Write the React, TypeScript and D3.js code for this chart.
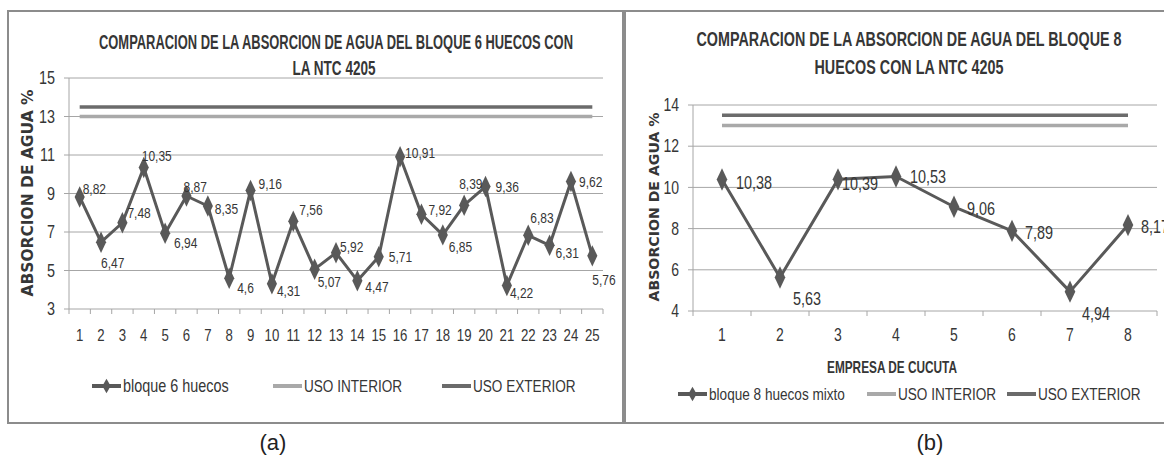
import React from 'react'
import * as d3 from 'd3'

// chart (a): bloque 6 huecos
const categories6 = ['1', '2', '3', '4', '5', '6', '7', '8', '9', '10', '11', '12', '13', '14', '15', '16', '17', '18', '19', '20', '21', '22', '23', '24', '25']
const bloque6 = [8.82, 6.47, 7.48, 10.35, 6.94, 8.87, 8.35, 4.6, 9.16, 4.31, 7.56, 5.07, 5.92, 4.47, 5.71, 10.91, 7.92, 6.85, 8.39, 9.36, 4.22, 6.83, 6.31, 9.62, 5.76]
const yTicks6 = [3, 5, 7, 9, 11, 13, 15]

// chart (b): bloque 8 huecos mixto
const categories8 = ['1', '2', '3', '4', '5', '6', '7', '8']
const bloque8 = [10.38, 5.63, 10.39, 10.53, 9.06, 7.89, 4.94, 8.17]
const yTicks8 = [4, 6, 8, 10, 12, 14]

// NTC 4205 limits
const usoInterior = 13
const usoExterior = 13.5

// where each data label sits relative to its point [dx, dy]
const labelPlace6 = [[3, -8], [0, 21], [5, -10], [-2, -12], [9, 10], [-3, -9], [7, 3], [8, 10], [8, -7], [5, 7], [6, -11], [3, 13], [4, -6], [8, 6], [10, 0], [5, -4], [7, -5], [6, 12], [-5, -22], [10, 0], [3, 7], [2, -18], [6, 7], [8, 0], [0, 24]]
const labelPlace8 = [[14, 3], [13, 21], [4, 4], [14, 0], [13, 2], [13, 2], [12, 22], [13, 2]]

const SANS = "'Liberation Sans', Arial, sans-serif"
const TXT = '#363636'
const SERIES = '#595959'
const EXT = '#6b6b6b'
const INT = '#a9a9a9'
const GRID = '#a6a6a6'

const fmt = (v) => String(v).replace('.', ',')

// Calibri-ish look: Liberation Sans squeezed horizontally
function NText({ x, y, size, anchor = 'start', weight = 'normal', sx = 0.8, children }) {
  return (
    <text
      transform={`translate(${x},${y}) scale(${sx},1)`}
      dy="0.35em"
      textAnchor={anchor}
      fontSize={size}
      fontWeight={weight}
      fontFamily={SANS}
      fill={TXT}
    >
      {children}
    </text>
  )
}

function Chart({ cats, values, ticks, x0, x1, yTop, yBot, places, labelSize, tickSize, xTickSize, diamond }) {
  const x = d3.scaleBand().domain(cats).range([x0, x1])
  const y = d3.scaleLinear().domain([ticks[0], ticks[ticks.length - 1]]).range([yBot, yTop])
  const cx = (c) => x(c) + x.bandwidth() / 2
  const line = d3.line().x((d, i) => cx(cats[i])).y((d) => y(d))
  const first = cx(cats[0])
  const last = cx(cats[cats.length - 1])
  const sym = d3.symbol().type(d3.symbolDiamond).size(diamond)

  return (
    <g>
      {ticks.map((t) => (
        <g key={t}>
          <line x1={x0} x2={x1} y1={y(t)} y2={y(t)} stroke={GRID} strokeWidth={1} />
          <line x1={x0 - 5} x2={x0} y1={y(t)} y2={y(t)} stroke={GRID} />
          <NText x={x0 - 14} y={y(t)} anchor="end" size={tickSize}>
            {t}
          </NText>
        </g>
      ))}
      <line x1={x0} x2={x0} y1={yTop} y2={yBot} stroke={GRID} />
      {cats.map((c, i) => (
        <g key={c}>
          <line x1={x(c)} x2={x(c)} y1={yBot} y2={yBot + 5} stroke={GRID} />
          {i === cats.length - 1 && <line x1={x1} x2={x1} y1={yBot} y2={yBot + 5} stroke={GRID} />}
          <NText x={cx(c)} y={335} anchor="middle" size={xTickSize}>
            {c}
          </NText>
        </g>
      ))}
      <line x1={first} x2={last} y1={y(usoExterior)} y2={y(usoExterior)} stroke={EXT} strokeWidth={3.5} />
      <line x1={first} x2={last} y1={y(usoInterior)} y2={y(usoInterior)} stroke={INT} strokeWidth={3.5} />
      <path d={line(values)} fill="none" stroke={SERIES} strokeWidth={3} strokeLinejoin="round" />
      {values.map((v, i) => (
        <path key={i} d={sym()} transform={`translate(${cx(cats[i])},${y(v)}) scale(0.9,1.1)`} fill={SERIES} />
      ))}
      {values.map((v, i) => (
        <NText key={i} x={cx(cats[i]) + places[i][0]} y={y(v) + places[i][1]} size={labelSize}>
          {fmt(v)}
        </NText>
      ))}
    </g>
  )
}

function Legend({ y, items }) {
  return (
    <g>
      {items.map((it) => (
        <g key={it.label}>
          <line x1={it.x} x2={it.x + 29} y1={y} y2={y} stroke={it.color} strokeWidth={4} />
          {it.marker && <path d={d3.symbol().type(d3.symbolDiamond).size(60)()} transform={`translate(${it.x + 14.5},${y})`} fill={it.color} />}
          <NText x={it.x + 31} y={y} size={it.size}>
            {it.label}
          </NText>
        </g>
      ))}
    </g>
  )
}

export default function App() {
  return (
    <svg width={1164} height={456} style={{ position: 'absolute', left: 0, top: 0, background: '#fff' }}>
      <rect x={8} y={11} width={615} height={412} fill="#fff" stroke="#8c8c8c" strokeWidth={2} />
      <rect x={625} y={11} width={560} height={412} fill="#fff" stroke="#8c8c8c" strokeWidth={2} />

      {/* (a) */}
      <text x={336} y={49} textAnchor="middle" fontSize={20} fontWeight="bold" fontFamily={SANS} fill={TXT} textLength={474} lengthAdjust="spacingAndGlyphs">
        COMPARACION DE LA ABSORCION DE AGUA DEL BLOQUE 6 HUECOS CON
      </text>
      <text x={334} y={75} textAnchor="middle" fontSize={20} fontWeight="bold" fontFamily={SANS} fill={TXT} textLength={83} lengthAdjust="spacingAndGlyphs">
        LA NTC 4205
      </text>
      <text transform="translate(33,193) rotate(-90)" textAnchor="middle" fontSize={15} fontWeight="bold" fontFamily="'DejaVu Sans', sans-serif" fill={TXT} textLength={207} lengthAdjust="spacingAndGlyphs">
        ABSORCION DE AGUA %
      </text>
      <Chart cats={categories6} values={bloque6} ticks={yTicks6} x0={69} x1={603} yTop={78} yBot={309} places={labelPlace6} labelSize={15} tickSize={18} xTickSize={16.5} diamond={110} />
      <Legend
        y={386}
        items={[
          { label: 'bloque 6 huecos', x: 92, color: SERIES, marker: true, size: 18 },
          { label: 'USO INTERIOR', x: 273, color: INT, size: 17 },
          { label: 'USO EXTERIOR', x: 442, color: EXT, size: 17 },
        ]}
      />
      <text x={273} y={450} textAnchor="middle" fontSize={22} fontFamily={SANS} fill="#222">
        (a)
      </text>

      {/* (b) */}
      <text x={909} y={46} textAnchor="middle" fontSize={20} fontWeight="bold" fontFamily={SANS} fill={TXT} textLength={425} lengthAdjust="spacingAndGlyphs">
        COMPARACION DE LA ABSORCION DE AGUA DEL BLOQUE 8
      </text>
      <text x={909} y={74} textAnchor="middle" fontSize={20} fontWeight="bold" fontFamily={SANS} fill={TXT} textLength={189} lengthAdjust="spacingAndGlyphs">
        HUECOS CON LA NTC 4205
      </text>
      <text transform="translate(659,207) rotate(-90)" textAnchor="middle" fontSize={14} fontWeight="bold" fontFamily="'DejaVu Sans', sans-serif" fill={TXT} textLength={189} lengthAdjust="spacingAndGlyphs">
        ABSORCION DE AGUA %
      </text>
      <Chart cats={categories8} values={bloque8} ticks={yTicks8} x0={693} x1={1157} yTop={105} yBot={311} places={labelPlace8} labelSize={18} tickSize={17.5} xTickSize={17.5} diamond={120} />
      <text x={892} y={367} dy="0.35em" textAnchor="middle" fontSize={17} fontWeight="bold" fontFamily={SANS} fill={TXT} textLength={130} lengthAdjust="spacingAndGlyphs">
        EMPRESA DE CUCUTA
      </text>
      <Legend
        y={394}
        items={[
          { label: 'bloque 8 huecos mixto', x: 678, color: SERIES, marker: true, size: 17 },
          { label: 'USO INTERIOR', x: 867, color: INT, size: 17 },
          { label: 'USO EXTERIOR', x: 1007, color: EXT, size: 17 },
        ]}
      />
      <text x={930} y={450} textAnchor="middle" fontSize={22} fontFamily={SANS} fill="#222">
        (b)
      </text>
    </svg>
  )
}
